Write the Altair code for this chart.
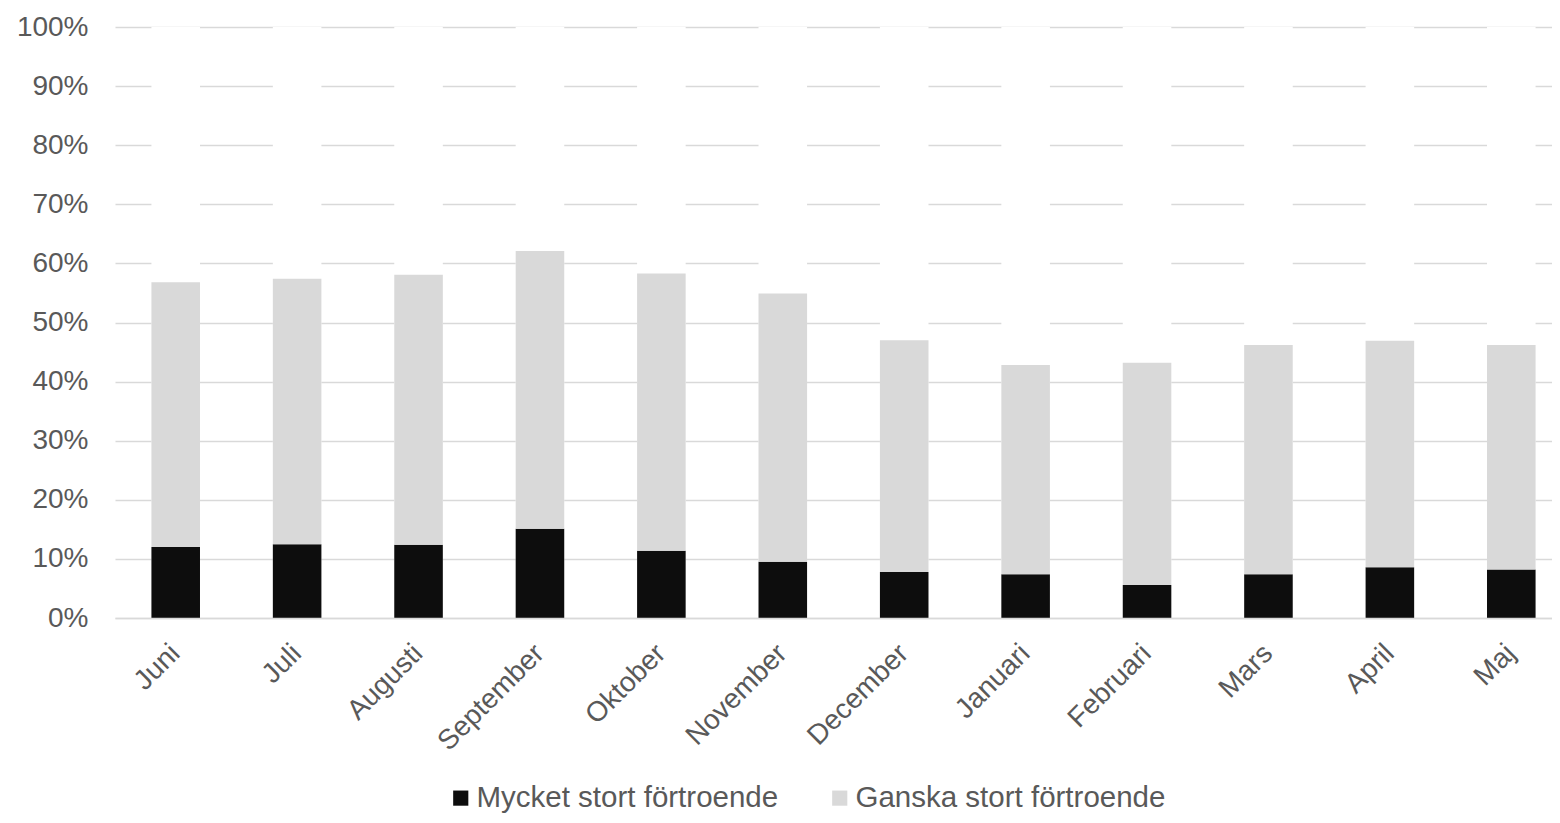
import altair as alt
import pandas as pd

months = ["Juni", "Juli", "Augusti", "September", "Oktober", "November",
          "December", "Januari", "Februari", "Mars", "April", "Maj"]
mycket = [12.0, 12.5, 12.4, 15.1, 11.4, 9.5, 7.8, 7.4, 5.6, 7.4, 8.6, 8.2]
ganska = [44.8, 44.9, 45.7, 47.0, 46.9, 45.4, 39.2, 35.4, 37.6, 38.8, 38.3, 38.0]
series = ["Mycket stort förtroende", "Ganska stort förtroende"]
colors = ["#0d0d0d", "#d9d9d9"]
ticks = [0, 10, 20, 30, 40, 50, 60, 70, 80, 90, 100]

df = pd.DataFrame({"month": months, series[0]: mycket, series[1]: ganska})

FONT = "Liberation Sans, Arial, sans-serif"
TXT = "#595959"
W, H = 1437, 591

xscale = alt.Scale(domain=months, range=[0, 1457], paddingInner=0.6, paddingOuter=0.3)
yscale = alt.Scale(domain=[0, 100], nice=False)

xaxis = alt.Axis(title=None, labelAngle=-45, labelAlign="right", labelBaseline="middle",
                 labelFontSize=28, labelColor=TXT, labelFont=FONT, ticks=False,
                 domain=True, domainColor="#d9d9d9", domainWidth=1.5,
                 labelPadding=31, zindex=1)
yaxis = alt.Axis(title=None, values=ticks, labelExpr="datum.value + '%'",
                 labelFontSize=28, labelColor=TXT, labelFont=FONT, ticks=False,
                 domain=False, grid=True, gridColor="#d9d9d9", gridWidth=1.5,
                 labelPadding=27)

base = alt.Chart(df)

white = base.mark_bar(color="white").encode(
    x=alt.X("month:N", scale=xscale, axis=xaxis, sort=months),
    y=alt.datum(100, type="quantitative", scale=yscale, axis=yaxis),
)

bars = base.transform_fold(series, as_=["key", "value"]).transform_calculate(
    ord="datum.key == 'Mycket stort förtroende' ? 0 : 1"
).mark_bar().encode(
    x=alt.X("month:N", scale=xscale, axis=xaxis, sort=months),
    y=alt.Y("value:Q", scale=yscale, axis=yaxis, stack="zero"),
    color=alt.Color("key:N", scale=alt.Scale(domain=series, range=colors), sort=series,
                    legend=alt.Legend(title=None, orient="none", legendX=331, legendY=756,
                                      direction="horizontal", symbolType="square",
                                      symbolSize=230, symbolStrokeWidth=0,
                                      labelFontSize=29.5, labelFont=FONT, labelColor=TXT,
                                      labelLimit=0, labelOffset=1, columnPadding=46,
                                      padding=0)),
    order=alt.Order("ord:Q", sort="ascending"),
)

chart = alt.layer(white, bars).properties(
    width=W, height=H,
    background="white",
    autosize=alt.AutoSizeParams(type="none"),
    padding={"left": 107, "top": 19, "right": 0, "bottom": 197},
).configure_view(stroke=None)

chart.save("out.html", embed_options={"renderer": "svg", "actions": False})
